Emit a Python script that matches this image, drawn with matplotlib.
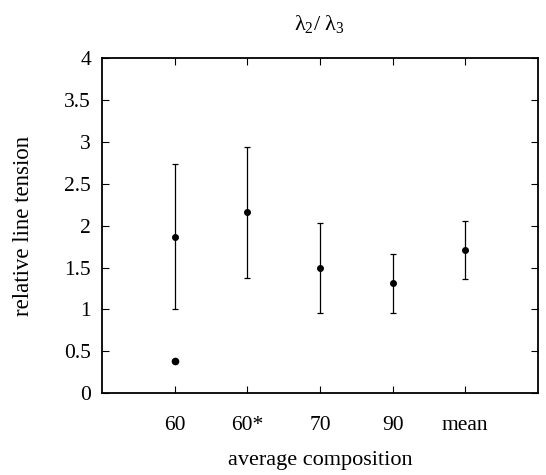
import matplotlib
matplotlib.use("Agg")
import matplotlib.pyplot as plt

# ─── DATA ──────────────────────────────────────────────
categories = ["60", "60*", "70", "90", "mean"]
means      = [1.87, 2.16, 1.49, 1.31, 1.71]
err_low    = [1.01, 1.37, 0.96, 0.96, 1.36]
err_high   = [2.73, 2.94, 2.03, 1.66, 2.05]
extra_cat  = "60"
extra_val  = 0.39

# ─── STYLE ─────────────────────────────────────────────
plt.rcParams["font.family"] = ["Liberation Serif", "DejaVu Serif"]
plt.rcParams["mathtext.fontset"] = "custom"
plt.rcParams["mathtext.rm"] = "Liberation Serif"
plt.rcParams["mathtext.it"] = "Liberation Serif"

fig = plt.figure(figsize=(5.46, 4.75), dpi=100)
ax = fig.add_axes([0.187, 0.172, 0.798, 0.706])

x = list(range(1, len(categories) + 1))
yerr = [[m - lo for m, lo in zip(means, err_low)],
        [hi - m for m, hi in zip(means, err_high)]]
ax.errorbar(x, means, yerr=yerr, fmt="o", color="black", ms=4,
            elinewidth=0.9, capsize=2.5, capthick=0.9)

ax.plot([categories.index(extra_cat) + 1], [extra_val], marker="o",
        color="black", ms=4.5, ls="none")

ax.set_xlim(0, 6)
ax.set_ylim(0, 4)
ax.set_xticks(x)
ax.set_xticklabels(categories)
ax.set_yticks([0, 0.5, 1, 1.5, 2, 2.5, 3, 3.5, 4])
ax.set_yticklabels(["0", "0.5", "1", "1.5", "2", "2.5", "3", "3.5", "4"])
ax.tick_params(direction="in", top=True, right=True, length=5, width=0.8,
               labelsize=15.5, pad=8)
ax.tick_params(axis="x", pad=16)
for s in ax.spines.values():
    s.set_linewidth(1.3)

ax.set_xlabel("average composition", fontsize=16, labelpad=12)
ax.set_ylabel("relative line tension", fontsize=16.5, labelpad=22)
ax.set_title("λ$_2$/ λ$_3$", fontsize=16, pad=20)

fig.savefig("out.png", dpi=100)
